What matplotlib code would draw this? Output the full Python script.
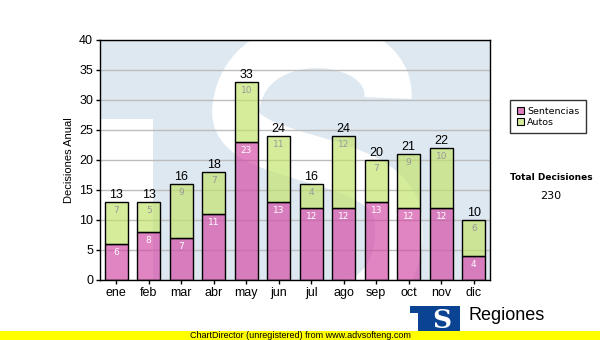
import matplotlib
matplotlib.use("Agg")
import matplotlib.pyplot as plt
from matplotlib.patches import Rectangle, PathPatch
from matplotlib.path import Path
import numpy as np

# monthly decisions
months = ['ene', 'feb', 'mar', 'abr', 'may', 'jun', 'jul', 'ago', 'sep', 'oct', 'nov', 'dic']
sentencias = [6, 8, 7, 11, 23, 13, 12, 12, 13, 12, 12, 4]
autos = [7, 5, 9, 7, 10, 11, 4, 12, 7, 9, 10, 6]
total_decisiones = 230

W, H = 600, 340
PINK = (0.83, 0.29, 0.65, 0.68)
GREEN = (0.76, 0.89, 0.42, 0.68)
WATERMARK = '#dee8f1'


def fx(px):
    return px / W


def fy(py):
    return 1 - py / H


fig = plt.figure(figsize=(6, 3.4), dpi=100)
fig.patch.set_facecolor('white')
ax = fig.add_axes([fx(100), fy(280), 390 / W, 240 / H])
ax.set_facecolor(WATERMARK)

# background logo: white area left of the T stem, plus a white S stroke
left_cut = Rectangle((fx(100), fy(280)), fx(153) - fx(100), fy(119) - fy(280),
                     transform=fig.transFigure, facecolor='white', edgecolor='none', zorder=0)
ax.add_patch(left_cut)
s_pts = [(388, 98), (392, 30), (245, 20), (236, 108),
         (228, 165), (390, 150), (398, 218),
         (404, 270), (380, 310), (300, 318)]
s_pts = [(fx(x), fy(y)) for x, y in s_pts]
s_codes = [Path.MOVETO] + [Path.CURVE4] * 9
s_patch = PathPatch(Path(s_pts, s_codes), transform=fig.transFigure, fill=False,
                    edgecolor='white', linewidth=34, capstyle='butt', zorder=0)
ax.add_patch(s_patch)
left_cut.set_clip_path(ax.patch)
s_patch.set_clip_path(ax.patch)

x = np.arange(len(months))
sent = np.array(sentencias)
aut = np.array(autos)
tot = sent + aut

b1 = ax.bar(x, sent, width=0.72, color=PINK, edgecolor='black', linewidth=1, zorder=2,
            label='Sentencias')
b2 = ax.bar(x, aut, width=0.72, bottom=sent, color=GREEN, edgecolor='black', linewidth=1,
            zorder=2, label='Autos')

for i in range(len(months)):
    ax.annotate(str(sent[i]), (x[i], sent[i]), xytext=(0, -3), textcoords='offset points',
                ha='center', va='top', fontsize=6.5, color='white', zorder=3)
    ax.annotate(str(aut[i]), (x[i], tot[i]), xytext=(0, -3), textcoords='offset points',
                ha='center', va='top', fontsize=6.5, color='#9a9a9a', zorder=3)
    ax.annotate(str(tot[i]), (x[i], tot[i]), xytext=(0, 1), textcoords='offset points',
                ha='center', va='bottom', fontsize=9, family='Liberation Sans', color='black', zorder=3)

ax.set_xlim(-0.5, 11.5)
ax.set_ylim(0, 40)
ax.set_yticks(range(0, 41, 5))
ax.set_xticks(x)
ax.set_xticklabels(months)
ax.grid(axis='y', color='#bdbdbd', linewidth=1, zorder=1)
ax.set_axisbelow(True)
for lab in ax.get_xticklabels() + ax.get_yticklabels():
    lab.set_family('Liberation Sans')
    lab.set_fontsize(9)
ax.tick_params(direction='out', length=3, width=1, color='black', pad=2)
for sp in ax.spines.values():
    sp.set_color('black')
    sp.set_linewidth(1)
ax.set_ylabel('Decisiones Anual', family='Liberation Sans', fontsize=8, labelpad=4)

leg = fig.legend(handles=[b1, b2], loc='upper left', bbox_to_anchor=(fx(510), fy(100)),
                 borderaxespad=0, fontsize=6.8, frameon=True, fancybox=False,
                 handlelength=0.8, handleheight=0.8, handletextpad=0.3, borderpad=0.7,
                 labelspacing=0.2)
leg.get_frame().set_edgecolor('black')
leg.get_frame().set_linewidth(1)
for h in leg.legend_handles:
    h.set_edgecolor('black')
    h.set_linewidth(0.8)
leg.legend_handles[0].set_facecolor('#df7fbf')
leg.legend_handles[1].set_facecolor('#d5ec98')

fig.text(fx(551), fy(177), 'Total Decisiones', ha='center', va='center', fontsize=6.5, weight='bold')
fig.text(fx(551), fy(196), str(total_decisiones), ha='center', va='center', fontsize=8)

# footer strip and logo
fig.patches.append(Rectangle((fx(410), fy(331)), fx(460) - fx(410), fy(306) - fy(331),
                             transform=fig.transFigure, facecolor='#0b4393', edgecolor='none', zorder=1))
fig.patches.append(Rectangle((fx(410), fy(331)), fx(418) - fx(410), fy(313) - fy(331),
                             transform=fig.transFigure, facecolor='white', edgecolor='none', zorder=2))
fig.text(fx(442), fy(320), 'S', ha='center', va='center', fontsize=19, weight='bold',
         color='white', family='DejaVu Serif', zorder=3)
fig.text(fx(469), fy(316), 'Regiones', ha='left', va='center', fontsize=13,
         family='Liberation Sans', color='black')
fig.patches.append(Rectangle((0, 0), 1, 9 / H, transform=fig.transFigure,
                             facecolor='#ffff00', edgecolor='none', zorder=4))
fig.text(0.5, fy(335.5), 'ChartDirector (unregistered) from www.advsofteng.com', ha='center',
         va='center', fontsize=6.5, family='Liberation Sans', zorder=5)

fig.savefig('out.png', dpi=100)
